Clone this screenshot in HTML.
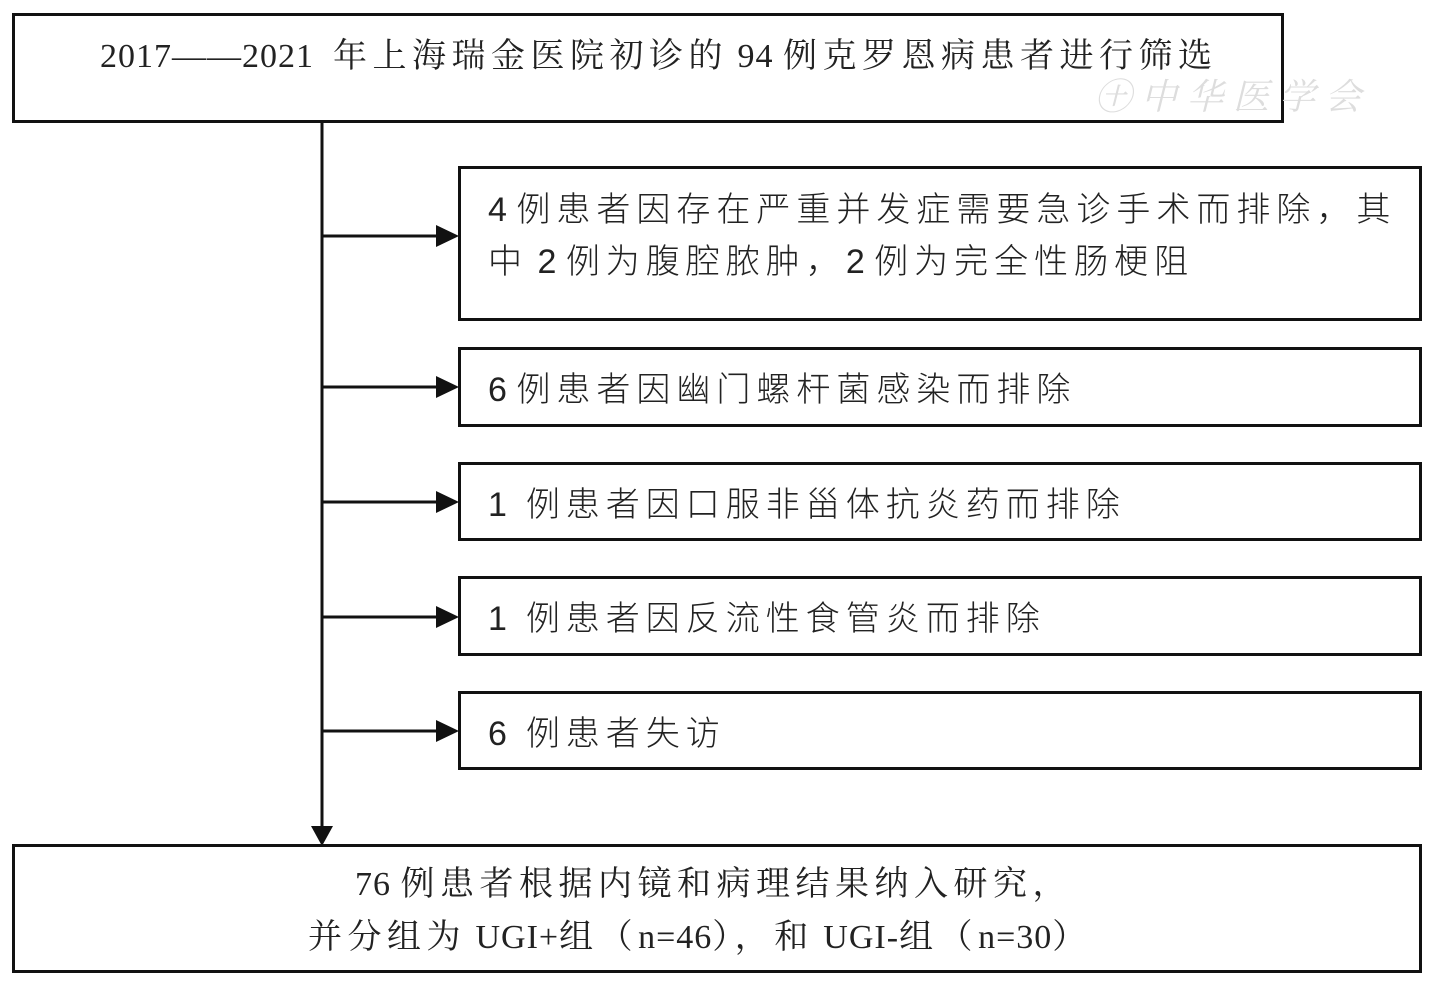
<!DOCTYPE html>
<html><head><meta charset="utf-8"><style>
body{margin:0;width:1433px;height:992px;background:#fff;position:relative;overflow:hidden}
.b{position:absolute;border:3px solid #111;box-sizing:border-box}
.t{position:absolute;white-space:nowrap;color:#222;font-size:34px;line-height:1}
.s{font-family:"Liberation Sans","Noto Sans CJK SC",sans-serif;font-weight:300;letter-spacing:6px}
.r{font-family:"Liberation Serif","Noto Serif CJK SC",serif;letter-spacing:5.5px}
.l{letter-spacing:0}
.r .l{letter-spacing:1px}
</style></head><body>
<div class="b" style="left:12px;top:13px;width:1272px;height:110px"></div>
<div class="t r" style="left:100px;top:40px"><span class="l">2017——2021 &nbsp;</span>年上海瑞金医院初诊的<span class="l"> 94 </span>例克罗恩病患者进行筛选</div>
<div class="t" style="left:1095px;top:77px;color:#ddd;font-size:36px;font-style:italic;font-family:'Noto Serif CJK SC',serif;letter-spacing:10px">㊉中华医学会</div>

<svg style="position:absolute;left:0;top:0" width="1433" height="992">
<line x1="322" y1="122" x2="322" y2="830" stroke="#111" stroke-width="3"/>
<polygon points="311,826 333,826 322,846" fill="#111"/>
<g stroke="#111" stroke-width="3">
<line x1="322" y1="236" x2="440" y2="236"/>
<line x1="322" y1="387" x2="440" y2="387"/>
<line x1="322" y1="502" x2="440" y2="502"/>
<line x1="322" y1="617" x2="440" y2="617"/>
<line x1="322" y1="731" x2="440" y2="731"/>
</g>
<g fill="#111">
<polygon points="436,225 459,236 436,247"/>
<polygon points="436,376 459,387 436,398"/>
<polygon points="436,491 459,502 436,513"/>
<polygon points="436,606 459,617 436,628"/>
<polygon points="436,720 459,731 436,742"/>
</g>
</svg>

<div class="b" style="left:458px;top:166px;width:964px;height:155px"></div>
<div class="t s" style="left:488px;top:193px"><span class="l">4 </span>例患者因存在严重并发症需要急诊手术而排除，其</div>
<div class="t s" style="left:488px;top:245px">中<span class="l"> 2 </span>例为腹腔脓肿，<span class="l">2 </span>例为完全性肠梗阻</div>

<div class="b" style="left:458px;top:347px;width:964px;height:80px"></div>
<div class="t s" style="left:488px;top:373px"><span class="l">6 </span>例患者因幽门螺杆菌感染而排除</div>

<div class="b" style="left:458px;top:462px;width:964px;height:79px"></div>
<div class="t s" style="left:488px;top:488px"><span class="l">1 &nbsp;</span>例患者因口服非甾体抗炎药而排除</div>

<div class="b" style="left:458px;top:576px;width:964px;height:80px"></div>
<div class="t s" style="left:488px;top:602px"><span class="l">1 &nbsp;</span>例患者因反流性食管炎而排除</div>

<div class="b" style="left:458px;top:691px;width:964px;height:79px"></div>
<div class="t s" style="left:488px;top:717px"><span class="l">6 &nbsp;</span>例患者失访</div>

<div class="b" style="left:12px;top:844px;width:1410px;height:129px"></div>
<div class="t r" style="left:355px;top:868px"><span class="l">76 </span>例患者根据内镜和病理结果纳入研究，</div>
<div class="t r" style="left:308px;top:921px">并分组为<span class="l"> UGI+</span>组（<span class="l">n=46</span>），和<span class="l"> UGI-</span>组（<span class="l">n=30</span>）</div>
</body></html>
